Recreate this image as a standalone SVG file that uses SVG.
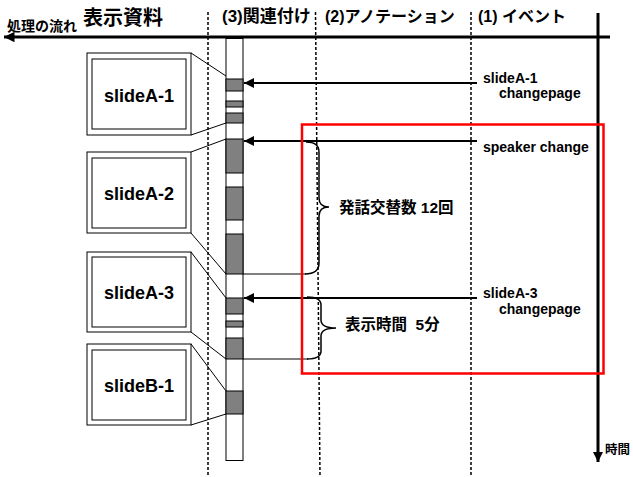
<svg xmlns="http://www.w3.org/2000/svg" width="633" height="477" viewBox="0 0 633 477">
<style>
text{font-family:"Liberation Sans","Noto Sans CJK JP",sans-serif;font-weight:bold;fill:#000}
.hdr{font-size:16px}
.lbl{font-size:14px}
.sl{font-size:18px;text-anchor:middle}
.dash{stroke:#000;stroke-width:1.5;stroke-dasharray:3,2;fill:none}
.thin{stroke:#000;stroke-width:1;fill:none}
.arr{stroke:#000;stroke-width:2;fill:none;marker-end:url(#ah)}
.blk{fill:#808080;stroke:#000;stroke-width:1}
.frame{fill:#fff;stroke:#000;stroke-width:1}
.brace{stroke:#000;stroke-width:1.5;fill:none}
</style>
<defs>
<marker id="ah" viewBox="0 0 10 10" refX="10" refY="5" markerWidth="5.5" markerHeight="5" orient="auto" markerUnits="strokeWidth">
<path d="M0,0 L10,5 L0,10 z" fill="#000"/>
</marker>
<marker id="ah2" viewBox="0 0 10 10" refX="10" refY="5" markerWidth="3.5" markerHeight="3.5" orient="auto" markerUnits="strokeWidth">
<path d="M0,0 L10,5 L0,10 z" fill="#000"/>
</marker>
</defs>

<g id="headers">
<text x="7" y="30.5" style="font-size:14px">処理の流れ</text>
<text x="83" y="25" style="font-size:20px">表示資料</text>
<text x="222" y="22" style="font-size:17px">(3)関連付け</text>
<text x="325" y="22" class="hdr">(2)アノテーション</text>
<text x="478" y="22" class="hdr">(1) イベント</text>
<text x="605" y="454" style="font-size:12.5px">時間</text>
</g>

<g id="axes">
<line x1="208" y1="12" x2="208" y2="477" class="dash"/>
<line x1="315.5" y1="12" x2="320" y2="477" class="dash"/>
<line x1="471" y1="12" x2="471" y2="477" class="dash"/>
<line x1="610" y1="37" x2="4" y2="37" stroke="#000" stroke-width="3" marker-end="url(#ah2)"/>
<line x1="598" y1="13" x2="598" y2="462" stroke="#000" stroke-width="3" marker-end="url(#ah2)"/>
</g>

<g id="timeline-bar">
<rect x="226" y="38.5" width="17" height="422" fill="#fff" stroke="#000" stroke-width="1"/>
<rect x="226" y="79" width="17" height="12" class="blk"/>
<rect x="226" y="101" width="17" height="6" class="blk"/>
<rect x="226" y="113" width="17" height="10" class="blk"/>
<rect x="226" y="139" width="17" height="34" class="blk"/>
<rect x="226" y="187" width="17" height="33" class="blk"/>
<rect x="226" y="234" width="17" height="40" class="blk"/>
<rect x="226" y="298" width="17" height="16" class="blk"/>
<rect x="226" y="321" width="17" height="6" class="blk"/>
<rect x="226" y="338" width="17" height="21" class="blk"/>
<rect x="226" y="391" width="17" height="23" class="blk"/>
</g>

<g id="slideA-1">
<rect x="87" y="53" width="104" height="82" class="frame"/>
<rect x="92" y="59" width="94" height="70" class="frame"/>
<text x="139" y="102" class="sl">slideA-1</text>
</g>
<g id="slideA-2">
<rect x="87" y="152" width="104" height="81" class="frame"/>
<rect x="92" y="158" width="94" height="70" class="frame"/>
<text x="139" y="200" class="sl">slideA-2</text>
</g>
<g id="slideA-3">
<rect x="87" y="252" width="104" height="80" class="frame"/>
<rect x="92" y="257" width="94" height="70" class="frame"/>
<text x="139" y="299" class="sl">slideA-3</text>
</g>
<g id="slideB-1">
<rect x="87" y="344" width="104" height="81" class="frame"/>
<rect x="92" y="350" width="94" height="70" class="frame"/>
<text x="139" y="392" class="sl">slideB-1</text>
</g>

<g id="connectors">
<line x1="191" y1="53" x2="226" y2="76" class="thin"/>
<line x1="191" y1="135" x2="226" y2="123" class="thin"/>
<line x1="191" y1="152" x2="226" y2="139" class="thin"/>
<line x1="191" y1="233" x2="226" y2="274" class="thin"/>
<line x1="191" y1="252" x2="226" y2="298" class="thin"/>
<line x1="191" y1="332" x2="226" y2="359" class="thin"/>
<line x1="191" y1="344" x2="226" y2="391" class="thin"/>
<line x1="191" y1="425" x2="226" y2="414" class="thin"/>
<line x1="243" y1="274" x2="306" y2="274" class="thin"/>
<line x1="243" y1="359" x2="308" y2="359" class="thin"/>
<line x1="477" y1="83" x2="244" y2="83" class="arr"/>
<line x1="477" y1="141" x2="244" y2="141" class="arr"/>
<line x1="477" y1="298" x2="244" y2="298" class="arr"/>
</g>

<g id="braces">
<path d="M306,142 Q319,142 319,152 L319,198 Q319,207 329,207 Q319,207 319,216 L319,263 Q319,274 305,274" class="brace"/>
<path d="M307,297 Q321,297 321,305 L321,320 Q321,328 336,328 Q321,328 321,336 L321,351 Q321,359 307,359" class="brace"/>
</g>

<g id="labels">
<text x="483" y="82.5" class="lbl">slideA-1</text>
<text x="499" y="98" class="lbl">changepage</text>
<text x="483" y="152" class="lbl">speaker change</text>
<text x="483" y="297.5" class="lbl">slideA-3</text>
<text x="499" y="314" class="lbl">changepage</text>
<text x="339" y="213" style="font-size:15.5px">発話交替数 12回</text>
<text x="345" y="330" style="font-size:15.5px" xml:space="preserve">表示時間  5分</text>
</g>

<g id="highlight">
<rect x="302" y="124.5" width="301.5" height="249" fill="none" stroke="#ff0000" stroke-width="2.5"/>
</g>
</svg>
